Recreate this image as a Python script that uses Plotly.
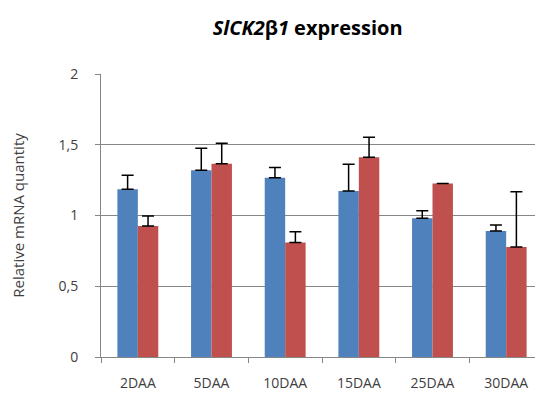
import plotly.graph_objects as go

categories = ["2DAA", "5DAA", "10DAA", "15DAA", "25DAA", "30DAA"]
blue_vals = [1.185, 1.32, 1.267, 1.173, 0.98, 0.89]
blue_err = [0.10, 0.155, 0.073, 0.19, 0.054, 0.043]
red_vals = [0.926, 1.366, 0.81, 1.411, 1.227, 0.777]
red_err = [0.07, 0.145, 0.076, 0.142, 0.0, 0.39]
ytick_vals = [0, 0.5, 1, 1.5, 2]
ytick_text = ["0", "0,5", "1", "1,5", "2"]

fig = go.Figure()
for vals, errs, color in [(blue_vals, blue_err, "#4F81BD"), (red_vals, red_err, "#C0504D")]:
    fig.add_trace(go.Bar(
        x=categories, y=vals, marker=dict(color=color, line=dict(width=0)),
        error_y=dict(type="data", array=errs, arrayminus=[0]*len(errs), symmetric=False,
                     color="black", thickness=1.5, width=6),
        showlegend=False,
    ))

fig.update_layout(
    width=535, height=402,
    margin=dict(l=93, r=0, t=66, b=53),
    paper_bgcolor="white", plot_bgcolor="white",
    barmode="group", bargap=0.445, bargroupgap=0,
    font=dict(family="Open Sans, DejaVu Sans, sans-serif", color="#404040"),
    title=dict(text="<b><i>SlCK2</i>β<i>1</i> expression</b>", x=0.56, xanchor="center", y=0.95, yanchor="middle",
               font=dict(size=20, color="black", family="Open Sans, sans-serif")),
    xaxis=dict(showline=True, linecolor="#868686", linewidth=1, ticks="outside", ticklen=5,
               tickcolor="#868686", tickson="boundaries", tickfont=dict(size=14, color="#404040"),
               ticklabelstandoff=13, showgrid=False),
    yaxis=dict(range=[0, 2], tickvals=ytick_vals, ticktext=ytick_text, showline=True,
               linecolor="#868686", linewidth=1, ticks="outside", ticklen=5, tickcolor="#868686",
               showgrid=True, gridcolor="#868686", gridwidth=1, zeroline=False,
               tickfont=dict(size=14, color="#404040"), ticklabelstandoff=14,
               title=dict(text="Relative mRNA quantity", font=dict(size=15, color="#404040"), standoff=30)),
)

fig.write_html("out.html")
